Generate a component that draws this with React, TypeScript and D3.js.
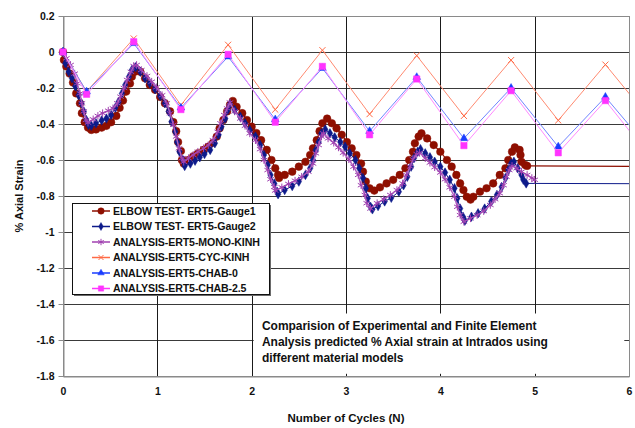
import React, { useEffect, useRef } from "react";
import * as d3 from "d3";

type Pt = [number, number];

// measured strain, gauge 1 (cycles, % strain)
const gauge1: Pt[] = [
  [0, 0], [0.01, -0.044], [0.035, -0.08], [0.07, -0.12], [0.106, -0.17], [0.14, -0.23], [0.18, -0.285], [0.2, -0.34], [0.23, -0.39], [0.265, -0.42], [0.3, -0.433],
  [0.35, -0.43], [0.41, -0.42], [0.46, -0.41], [0.51, -0.39], [0.565, -0.355], [0.6, -0.31], [0.636, -0.27], [0.67, -0.22], [0.71, -0.175], [0.73, -0.137], [0.76, -0.11], [0.78, -0.096],
  [0.82, -0.11], [0.87, -0.146], [0.92, -0.183], [0.976, -0.21], [1.03, -0.25], [1.08, -0.285], [1.135, -0.33], [1.17, -0.39], [1.2, -0.44], [1.22, -0.5], [1.25, -0.55], [1.26, -0.6], [1.28, -0.62],
  [1.33, -0.6], [1.38, -0.58], [1.43, -0.563], [1.49, -0.544], [1.54, -0.526], [1.59, -0.504], [1.63, -0.47], [1.66, -0.424], [1.7, -0.378], [1.74, -0.33], [1.77, -0.294], [1.8, -0.272],
  [1.84, -0.304], [1.9, -0.34], [1.95, -0.378], [2.0, -0.415], [2.05, -0.45], [2.1, -0.49], [2.16, -0.544], [2.21, -0.6], [2.25, -0.646], [2.28, -0.683], [2.29, -0.7],
  [2.35, -0.683], [2.43, -0.665], [2.5, -0.637], [2.57, -0.61], [2.62, -0.572], [2.65, -0.535], [2.69, -0.49], [2.72, -0.44], [2.75, -0.396], [2.8, -0.37],
  [2.85, -0.396], [2.9, -0.424], [2.955, -0.46], [3.01, -0.5], [3.06, -0.535], [3.11, -0.572], [3.16, -0.62], [3.18, -0.665], [3.21, -0.72], [3.25, -0.757], [3.3, -0.77],
  [3.36, -0.752], [3.43, -0.73], [3.5, -0.71], [3.57, -0.683], [3.63, -0.646], [3.67, -0.6], [3.71, -0.554], [3.73, -0.507], [3.77, -0.47], [3.8, -0.452],
  [3.86, -0.48], [3.93, -0.517], [4.0, -0.554], [4.07, -0.6], [4.12, -0.637], [4.17, -0.683], [4.21, -0.73], [4.245, -0.767], [4.28, -0.804], [4.32, -0.82],
  [4.35, -0.804], [4.42, -0.776], [4.49, -0.757], [4.56, -0.73], [4.63, -0.683], [4.69, -0.646], [4.72, -0.6], [4.76, -0.554], [4.79, -0.53], [4.84, -0.544], [4.85, -0.572], [4.86, -0.61], [4.9, -0.628], [4.92, -0.633],
  [7, -0.637],
];

// measured strain, gauge 2
const gauge2: Pt[] = [
  [0, 0], [0.025, -0.063], [0.06, -0.11], [0.095, -0.146], [0.13, -0.19], [0.166, -0.24], [0.195, -0.285], [0.22, -0.33], [0.247, -0.378], [0.27, -0.405], [0.3, -0.41],
  [0.35, -0.396], [0.41, -0.38], [0.46, -0.37], [0.51, -0.35], [0.555, -0.31], [0.59, -0.276], [0.625, -0.23], [0.66, -0.183], [0.7, -0.137], [0.73, -0.1], [0.77, -0.085],
  [0.82, -0.11], [0.87, -0.146], [0.92, -0.174], [0.976, -0.207], [1.03, -0.245], [1.08, -0.285], [1.12, -0.33], [1.15, -0.387], [1.19, -0.443], [1.21, -0.5], [1.235, -0.554], [1.27, -0.6], [1.29, -0.633],
  [1.35, -0.62], [1.4, -0.604], [1.45, -0.585], [1.5, -0.567], [1.56, -0.544], [1.61, -0.507], [1.65, -0.46], [1.68, -0.415], [1.72, -0.37], [1.746, -0.322], [1.77, -0.29],
  [1.82, -0.322], [1.88, -0.36], [1.93, -0.396], [1.98, -0.433], [2.04, -0.47], [2.09, -0.517], [2.13, -0.572], [2.17, -0.628], [2.2, -0.683], [2.24, -0.73], [2.27, -0.776], [2.28, -0.79],
  [2.35, -0.767], [2.43, -0.745], [2.5, -0.72], [2.57, -0.683], [2.62, -0.646], [2.65, -0.6], [2.68, -0.544], [2.71, -0.5], [2.74, -0.452], [2.78, -0.43],
  [2.83, -0.452], [2.88, -0.474], [2.94, -0.5], [2.99, -0.526], [3.04, -0.563], [3.1, -0.6], [3.14, -0.646], [3.18, -0.7], [3.21, -0.757], [3.23, -0.813], [3.26, -0.86], [3.28, -0.874],
  [3.34, -0.856], [3.41, -0.83], [3.48, -0.81], [3.56, -0.776], [3.61, -0.74], [3.65, -0.693], [3.69, -0.637], [3.72, -0.59], [3.76, -0.554], [3.79, -0.54],
  [3.84, -0.563], [3.89, -0.585], [3.94, -0.61], [4.0, -0.637], [4.05, -0.67], [4.1, -0.71], [4.15, -0.757], [4.18, -0.813], [4.21, -0.87], [4.24, -0.915], [4.26, -0.937],
  [4.33, -0.915], [4.4, -0.896], [4.47, -0.87], [4.54, -0.83], [4.6, -0.794], [4.65, -0.75], [4.69, -0.7], [4.72, -0.656], [4.75, -0.62], [4.78, -0.61],
  [4.82, -0.646], [4.86, -0.683], [4.88, -0.71], [4.91, -0.73],
  [7, -0.733],
];

// FE analysis, monotonic kinematic hardening
const monoKinh: Pt[] = [
  [0, 0], [0.035, -0.035], [0.08, -0.072], [0.124, -0.12], [0.15, -0.174], [0.18, -0.23], [0.2, -0.285], [0.22, -0.33], [0.244, -0.378], [0.265, -0.393],
  [0.32, -0.374], [0.37, -0.355], [0.42, -0.34], [0.48, -0.326], [0.53, -0.313], [0.576, -0.285], [0.61, -0.248], [0.647, -0.2], [0.68, -0.155], [0.72, -0.11], [0.75, -0.078], [0.78, -0.072],
  [0.83, -0.1], [0.89, -0.133], [0.94, -0.165], [0.99, -0.196], [1.05, -0.24], [1.1, -0.285], [1.135, -0.34], [1.17, -0.405], [1.2, -0.47], [1.23, -0.535], [1.26, -0.59], [1.28, -0.61],
  [1.33, -0.59], [1.38, -0.572], [1.43, -0.554], [1.49, -0.535], [1.54, -0.517], [1.59, -0.49], [1.64, -0.443], [1.67, -0.396], [1.71, -0.35], [1.74, -0.313], [1.77, -0.28],
  [1.82, -0.33], [1.88, -0.37], [1.93, -0.41], [1.98, -0.452], [2.04, -0.49], [2.09, -0.54], [2.13, -0.6], [2.17, -0.656], [2.2, -0.707], [2.24, -0.75], [2.25, -0.77],
  [2.32, -0.752], [2.39, -0.733], [2.46, -0.715], [2.53, -0.693], [2.6, -0.665], [2.65, -0.62], [2.68, -0.563], [2.71, -0.517], [2.74, -0.47], [2.76, -0.452],
  [2.81, -0.48], [2.87, -0.504], [2.92, -0.53], [2.97, -0.56], [3.03, -0.596], [3.08, -0.637], [3.13, -0.683], [3.16, -0.74], [3.2, -0.794], [3.22, -0.84], [3.26, -0.87],
  [3.33, -0.84], [3.4, -0.818], [3.47, -0.794], [3.54, -0.767], [3.6, -0.73], [3.64, -0.683], [3.68, -0.637], [3.71, -0.596], [3.75, -0.567], [3.78, -0.56],
  [3.84, -0.59], [3.89, -0.615], [3.94, -0.64], [4.0, -0.67], [4.05, -0.707], [4.1, -0.752], [4.15, -0.804], [4.18, -0.86], [4.21, -0.906], [4.25, -0.943],
  [4.32, -0.924], [4.39, -0.906], [4.46, -0.884], [4.53, -0.85], [4.58, -0.818], [4.63, -0.785], [4.67, -0.74], [4.7, -0.693], [4.73, -0.656], [4.76, -0.633],
  [4.81, -0.646], [4.86, -0.665], [4.92, -0.683], [4.97, -0.7], [5.0, -0.71],
];

// FE analyses evaluated at peaks and valleys
const cycleX = [0, 0.25, 0.75, 1.25, 1.75, 2.25, 2.75, 3.25, 3.75, 4.25, 4.75, 5.25, 5.75, 6.25];
const cycKinh = [0, -0.22, 0.075, -0.295, 0.04, -0.32, 0.01, -0.345, -0.02, -0.355, -0.045, -0.38, -0.07, -0.39];
const chab0 = [0, -0.22, 0.048, -0.31, -0.026, -0.375, -0.09, -0.44, -0.14, -0.48, -0.2, -0.526, -0.25, -0.56];
const chab25 = [0, -0.235, 0.057, -0.32, -0.013, -0.39, -0.08, -0.46, -0.15, -0.52, -0.215, -0.56, -0.27, -0.6];

const seriesNames = [
  "ELBOW TEST- ERT5-Gauge1",
  "ELBOW TEST- ERT5-Gauge2",
  "ANALYSIS-ERT5-MONO-KINH",
  "ANALYSIS-ERT5-CYC-KINH",
  "ANALYSIS-ERT5-CHAB-0",
  "ANALYSIS-ERT5-CHAB-2.5",
];

const yTicks = [0.2, 0, -0.2, -0.4, -0.6, -0.8, -1, -1.2, -1.4, -1.6, -1.8];
const xTicks = [0, 1, 2, 3, 4, 5, 6];

const noteLines = [
  "Comparision of Experimental and Finite Element",
  "Analysis predicted % Axial strain at Intrados using",
  "different material models",
];

const FONT = "'Liberation Sans', Arial, sans-serif";

const App = () => {
  const svgRef = useRef<SVGSVGElement>(null);

  useEffect(() => {
    const W = 635;
    const H = 428;
    const margin = { top: 16, right: 6, bottom: 52, left: 63 };

    const svg = d3.select(svgRef.current);
    svg.selectAll("*").remove();

    const x = d3.scaleLinear().domain([0, 6]).range([margin.left, W - margin.right]);
    const y = d3.scaleLinear().domain([-1.8, 0.2]).range([H - margin.bottom, margin.top]);
    const [x0, x1] = x.range();
    const [y0, y1] = y.range();

    const symAsterisk = (d3 as any).symbolAsterisk ?? d3.symbolCross;
    const symTimes = (d3 as any).symbolTimes ?? (d3 as any).symbolX ?? d3.symbolCross;

    const series = [
      { name: seriesNames[0], data: gauge1, color: "#8e0f00", line: "#8e0f00", lw: 1.2, sym: d3.symbolCircle, size: 46, fill: true },
      { name: seriesNames[1], data: gauge2, color: "#0d1a8a", line: "#0d1a8a", lw: 1, sym: d3.symbolDiamond, size: 26, fill: true },
      { name: seriesNames[2], data: monoKinh, color: "#a040b0", line: "#b060c0", lw: 1.5, sym: symAsterisk, size: 40, fill: false },
      { name: seriesNames[3], data: cycleX.map((c, i) => [c, cycKinh[i]] as Pt), color: "#ff6a45", line: "#ff8a70", lw: 1, sym: symTimes, size: 26, fill: false },
      { name: seriesNames[4], data: cycleX.map((c, i) => [c, chab0[i]] as Pt), color: "#1a3cff", line: "#7085ff", lw: 1, sym: d3.symbolTriangle, size: 26, fill: true },
      { name: seriesNames[5], data: cycleX.map((c, i) => [c, chab25[i]] as Pt), color: "#ff33ff", line: "#ff88ff", lw: 1, sym: d3.symbolSquare, size: 40, fill: true },
    ];

    svg.append("rect").attr("width", W).attr("height", H).attr("fill", "#fff");

    svg.append("defs").append("clipPath").attr("id", "plot-clip")
      .append("rect").attr("x", 0).attr("y", 0).attr("width", x1).attr("height", H);

    // gridlines
    const grid = svg.append("g");
    grid.selectAll("line.h")
      .data(yTicks.filter((t) => t > -1.8 && t < 0.2))
      .enter().append("line")
      .attr("x1", x0).attr("x2", x1)
      .attr("y1", (d) => Math.round(y(d)) + 0.5).attr("y2", (d) => Math.round(y(d)) + 0.5)
      .attr("stroke", "#3a3a3a").attr("stroke-width", 1);
    grid.selectAll("line.v")
      .data(xTicks.filter((t) => t > 0 && t < 6))
      .enter().append("line")
      .attr("x1", (d) => Math.round(x(d)) + 0.5).attr("x2", (d) => Math.round(x(d)) + 0.5)
      .attr("y1", y1).attr("y2", y0)
      .attr("stroke", "#1a1a1a").attr("stroke-width", 1);

    // plot border
    svg.append("rect")
      .attr("x", x0 + 0.5).attr("y", y1 + 0.5)
      .attr("width", x1 - x0).attr("height", y0 - y1)
      .attr("fill", "none").attr("stroke", "#8a8a8a").attr("stroke-width", 1);

    // annotation box
    svg.append("rect")
      .attr("x", x(2) + 2).attr("y", y(-1.45) + 0.5)
      .attr("width", x(5.95) - x(2) - 2).attr("height", y(-1.785) - y(-1.45))
      .attr("fill", "#fff");
    svg.append("g")
      .selectAll("text")
      .data(noteLines)
      .enter().append("text")
      .attr("x", 262)
      .attr("y", (_, i) => 330 + i * 16)
      .attr("font-family", FONT).attr("font-weight", "bold").attr("font-size", 12)
      .attr("letter-spacing", -0.05)
      .attr("fill", "#111")
      .text((d) => d);

    // axes
    const yAxis = svg.append("g")
      .attr("transform", `translate(${x0 + 0.5},0)`)
      .call(d3.axisLeft(y).tickValues(yTicks).tickSize(5).tickSizeOuter(0).tickPadding(4)
        .tickFormat((d) => String(Math.round(+d * 10) / 10)));
    yAxis.select(".domain").attr("stroke", "#8a8a8a");
    yAxis.selectAll(".tick line").attr("stroke", "#8a8a8a");
    yAxis.selectAll("text").attr("font-family", FONT).attr("font-weight", "bold").attr("font-size", 10.5).attr("fill", "#111");

    const xAxis = svg.append("g")
      .attr("transform", `translate(0,${y0 + 0.5})`)
      .call(d3.axisBottom(x).tickValues(xTicks).tickSize(0).tickSizeOuter(0).tickPadding(11)
        .tickFormat((d) => String(d)));
    xAxis.select(".domain").attr("stroke", "#8a8a8a");
    xAxis.selectAll("text").attr("font-family", FONT).attr("font-weight", "bold").attr("font-size", 10.5).attr("fill", "#111");

    svg.append("text")
      .attr("x", (x0 + x1) / 2).attr("y", 422)
      .attr("text-anchor", "middle")
      .attr("font-family", FONT).attr("font-weight", "bold").attr("font-size", 11.5).attr("fill", "#111")
      .text("Number of Cycles (N)");
    svg.append("text")
      .attr("transform", `translate(23,${(y0 + y1) / 2}) rotate(-90)`)
      .attr("text-anchor", "middle")
      .attr("font-family", FONT).attr("font-weight", "bold").attr("font-size", 11).attr("fill", "#111")
      .text("% Axial Strain");

    // series
    const lineGen = d3.line<Pt>().x((d) => x(d[0])).y((d) => y(d[1]));
    const plot = svg.append("g");
    series.forEach((s) => {
      const g = plot.append("g");
      g.append("path")
        .datum(s.data)
        .attr("clip-path", "url(#plot-clip)")
        .attr("fill", "none")
        .attr("stroke", s.line)
        .attr("stroke-width", s.lw)
        .attr("d", lineGen);
      g.selectAll("path.m")
        .data(s.data.filter((d) => d[0] <= 6))
        .enter().append("path")
        .attr("transform", (d) => `translate(${x(d[0])},${y(d[1])})`)
        .attr("d", d3.symbol().type(s.sym).size(s.size)())
        .attr("fill", s.fill ? s.color : "none")
        .attr("stroke", s.color)
        .attr("stroke-width", s.fill ? 0.5 : 1);
    });

    // legend
    const lg = { x: 72, y: 203, w: 197, h: 91 };
    const legend = svg.append("g");
    legend.append("rect")
      .attr("x", lg.x + 2).attr("y", lg.y + 2).attr("width", lg.w).attr("height", lg.h)
      .attr("fill", "#6a6a6a");
    legend.append("rect")
      .attr("x", lg.x + 0.5).attr("y", lg.y + 0.5).attr("width", lg.w).attr("height", lg.h)
      .attr("fill", "#fff").attr("stroke", "#111").attr("stroke-width", 1);
    series.forEach((s, i) => {
      const cy = lg.y + 8 + i * 15.5;
      const item = legend.append("g");
      item.append("line")
        .attr("x1", 92).attr("x2", 110).attr("y1", cy).attr("y2", cy)
        .attr("stroke", s.color).attr("stroke-width", 1.5);
      item.append("path")
        .attr("transform", `translate(101,${cy})`)
        .attr("d", d3.symbol().type(s.sym).size(s.size * 0.7)())
        .attr("fill", s.fill ? s.color : "none")
        .attr("stroke", s.color)
        .attr("stroke-width", s.fill ? 0.5 : 1);
      item.append("text")
        .attr("x", 113).attr("y", cy + 3.9)
        .attr("font-family", FONT).attr("font-weight", "bold").attr("font-size", 10.6).attr("fill", "#111")
        .attr("letter-spacing", -0.1)
        .text(s.name);
    });
  }, []);

  return <svg ref={svgRef} width={635} height={428} style={{ position: "absolute", left: 0, top: 0 }} />;
};

export default App;
